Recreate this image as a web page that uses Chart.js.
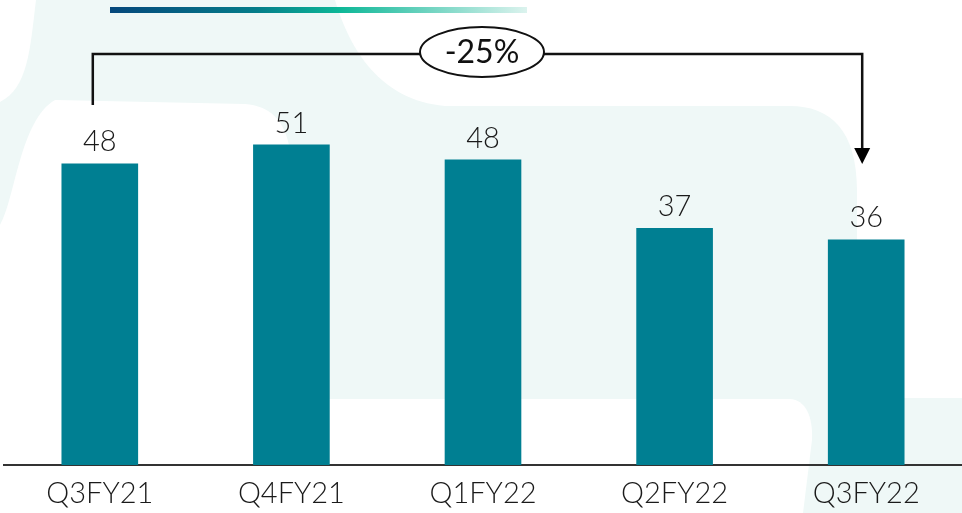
<!DOCTYPE html>
<html>
<head>
<meta charset="utf-8">
<script src="https://cdn.jsdelivr.net/npm/chart.js@4.4.1/dist/chart.umd.min.js"></script>
<style>
  html, body { margin: 0; padding: 0; background: #fff; }
  #wrap { width: 962px; height: 513px; position: relative; }
</style>
</head>
<body>
<div id="wrap"><canvas id="barChart"></canvas></div>
<script>
var categories = ["Q3FY21", "Q4FY21", "Q1FY22", "Q2FY22", "Q3FY22"];
var values = [48, 51, 48.6, 37.7, 35.9];
var valueLabels = ["48", "51", "48", "37", "36"];
var changeLabel = "-25%";

var mint = "#eff8f7";
var barColor = "#007f92";

// pale decorative shapes behind the plot
var backdrop = {
    id: "backdrop",
    beforeDraw: function (chart) {
        var ctx = chart.ctx;
        var w = chart.width, h = chart.height;
        ctx.save();
        ctx.fillStyle = mint;
        ctx.fillRect(0, 0, w, h);
        ctx.fillStyle = "#ffffff";

        // top left sliver
        ctx.beginPath();
        ctx.moveTo(0, 0);
        ctx.lineTo(36, 0);
        ctx.bezierCurveTo(30, 50, 28, 88, 0, 102);
        ctx.closePath();
        ctx.fill();

        // top right blob
        ctx.beginPath();
        ctx.moveTo(335, 0);
        ctx.lineTo(w, 0);
        ctx.lineTo(w, 398);
        ctx.lineTo(857, 398);
        ctx.lineTo(857, 190);
        ctx.bezierCurveTo(857, 130, 830, 106, 790, 106);
        ctx.lineTo(445, 106);
        ctx.bezierCurveTo(380, 100, 350, 50, 335, 0);
        ctx.closePath();
        ctx.fill();

        // left rounded panel
        ctx.beginPath();
        ctx.moveTo(55, 100);
        ctx.lineTo(245, 104);
        ctx.bezierCurveTo(270, 106, 285, 120, 290, 150);
        ctx.lineTo(290, 470);
        ctx.lineTo(0, 470);
        ctx.lineTo(0, 225);
        ctx.bezierCurveTo(15, 200, 20, 120, 55, 100);
        ctx.closePath();
        ctx.fill();

        // bottom band
        ctx.beginPath();
        ctx.moveTo(0, 399);
        ctx.lineTo(790, 399);
        ctx.bezierCurveTo(805, 400, 813, 415, 812, 440);
        ctx.lineTo(803, h);
        ctx.lineTo(0, h);
        ctx.closePath();
        ctx.fill();

        // gradient strip at the top
        var g = ctx.createLinearGradient(110, 0, 527, 0);
        g.addColorStop(0, "#06487c");
        g.addColorStop(0.35, "#047d8a");
        g.addColorStop(0.55, "#0db797");
        g.addColorStop(1, "#dcf3ee");
        ctx.fillStyle = g;
        ctx.fillRect(110, 7, 417, 6);
        ctx.restore();
    }
};

var extras = {
    id: "extras",
    afterDatasetsDraw: function (chart) {
        var ctx = chart.ctx;
        var bars = chart.getDatasetMeta(0).data;
        ctx.save();

        // value labels
        ctx.fillStyle = "#1a1a1a";
        ctx.font = "300 29px Lato";
        ctx.textAlign = "center";
        ctx.textBaseline = "alphabetic";
        bars.forEach(function (bar, i) {
            ctx.fillText(valueLabels[i], bar.x, bar.y - 12);
        });

        // bracket with arrow
        var x0 = bars[0].x - 7, x1 = bars[bars.length - 1].x - 4, yTop = 54;
        ctx.strokeStyle = "#111";
        ctx.lineWidth = 2.5;
        ctx.beginPath();
        ctx.moveTo(x0, 105);
        ctx.lineTo(x0, yTop);
        ctx.lineTo(x1, yTop);
        ctx.lineTo(x1, 150);
        ctx.stroke();
        ctx.fillStyle = "#000";
        ctx.beginPath();
        ctx.moveTo(x1 - 8, 148);
        ctx.lineTo(x1 + 8, 148);
        ctx.lineTo(x1, 164);
        ctx.closePath();
        ctx.fill();

        // bubble
        var cx = bars[2].x - 1, cy = 52;
        ctx.beginPath();
        ctx.ellipse(cx, cy, 62, 25, 0, 0, Math.PI * 2);
        ctx.fillStyle = "#fff";
        ctx.fill();
        ctx.lineWidth = 2;
        ctx.stroke();
        ctx.fillStyle = "#111";
        ctx.font = "32px Lato";
        ctx.textBaseline = "middle";
        ctx.fillText(changeLabel, cx, cy + 1);
        ctx.restore();
    }
};

new Chart(document.getElementById("barChart"), {
    type: "bar",
    data: {
        labels: categories,
        datasets: [{
            data: values,
            backgroundColor: barColor,
            borderWidth: 0,
            categoryPercentage: 1,
            barPercentage: 0.4
        }]
    },
    options: {
        responsive: true,
        maintainAspectRatio: false,
        animation: false,
        layout: { padding: { left: 4, right: 0, top: 0, bottom: 0 } },
        plugins: {
            legend: { display: false },
            tooltip: { enabled: false }
        },
        scales: {
            x: {
                grid: { display: false, drawTicks: false },
                border: { display: true, color: "#333", width: 2 },
                ticks: {
                    color: "#1a1a1a",
                    font: { family: "Lato", size: 29, weight: "300" },
                    padding: 11
                },
                afterFit: function (scale) { scale.height = 48; }
            },
            y: {
                display: false,
                min: 0,
                max: 74
            }
        }
    },
    plugins: [backdrop, extras]
});
</script>
</body>
</html>
